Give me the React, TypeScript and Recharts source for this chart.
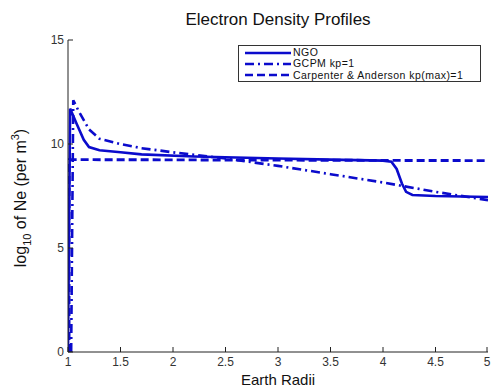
import React from "react";
import { LineChart, Line, XAxis, YAxis, Legend } from "recharts";

// x ticks (Earth radii) and y ticks (log10 Ne)
const xTicks = [1, 1.5, 2, 2.5, 3, 3.5, 4, 4.5, 5];
const yTicks = [0, 5, 10, 15];

// NGO model
const ngoR = [1.0, 1.02, 1.08, 1.15, 1.2, 1.3, 1.5, 1.7, 2.2, 3.0, 3.5, 4.0, 4.08, 4.13, 4.18, 4.22, 4.28, 4.5, 5.0];
const ngoNe = [0, 11.7, 11.0, 10.2, 9.85, 9.7, 9.6, 9.5, 9.4, 9.3, 9.25, 9.2, 9.15, 8.8, 8.1, 7.7, 7.55, 7.5, 7.45];

// GCPM kp=1
const gcpmR = [1.03, 1.05, 1.1, 1.2, 1.3, 1.5, 1.7, 2.0, 2.5, 3.0, 3.5, 4.0, 4.5, 5.0];
const gcpmNe = [0, 12.1, 11.6, 10.7, 10.25, 10.0, 9.8, 9.6, 9.3, 8.95, 8.55, 8.15, 7.7, 7.3];

// Carpenter & Anderson kp(max)=1
const caR = [1.01, 1.01, 5.0];
const caNe = [0, 9.25, 9.2];

const zip = (xs: number[], ys: number[]) => xs.map((r, i) => ({ r, ne: ys[i] }));

const BLUE = "#0b0bcc";
const AXIS = "#222";
const FONT = "Arial, 'Liberation Sans', sans-serif";

const series = [
  { name: "NGO", data: zip(ngoR, ngoNe), dash: undefined as string | undefined, width: 2.6 },
  { name: "GCPM kp=1", data: zip(gcpmR, gcpmNe), dash: "9 4 2 4", width: 2.6 },
  { name: "Carpenter & Anderson kp(max)=1", data: zip(caR, caNe), dash: "8 4", width: 2.9 },
];

const BottomTick = (props: any) => {
  const { x, y, payload } = props;
  return (
    <g>
      <line x1={x} x2={x} y1={y} y2={y - 5} stroke={AXIS} />
      <text x={x} y={y + 14} textAnchor="middle" fontSize={12} fill="#333" fontFamily={FONT}>
        {payload.value}
      </text>
    </g>
  );
};

const TopTick = (props: any) => {
  const { x, y } = props;
  return <line x1={x} x2={x} y1={y} y2={y + 5} stroke={AXIS} />;
};

const LeftTick = (props: any) => {
  const { x, y, payload } = props;
  return (
    <g>
      <line x1={x} x2={x + 5} y1={y} y2={y} stroke={AXIS} />
      <text x={x - 4} y={y + 4} textAnchor="end" fontSize={12} fill="#333" fontFamily={FONT}>
        {payload.value}
      </text>
    </g>
  );
};

const RightTick = (props: any) => {
  const { x, y } = props;
  return <line x1={x} x2={x - 5} y1={y} y2={y} stroke={AXIS} />;
};

const YLabel = (props: any) => {
  const { viewBox } = props;
  const cx = 26;
  const cy = viewBox.y + viewBox.height / 2 + 2;
  return (
    <text
      x={cx}
      y={cy}
      transform={`rotate(-90 ${cx} ${cy})`}
      textAnchor="middle"
      fontSize={16}
      fontFamily={FONT}
      fill="#111"
    >
      log
      <tspan fontSize={11} dy={5}>10</tspan>
      <tspan dy={-5}> of Ne (per m</tspan>
      <tspan fontSize={11} dy={-7}>3</tspan>
      <tspan dy={7}>)</tspan>
    </text>
  );
};

const renderLegend = () => (
  <div
    style={{
      border: "1px solid #333",
      background: "#fff",
      width: 243,
      height: 37,
      boxSizing: "border-box",
      padding: "1px 0 0 6px",
      fontFamily: FONT,
      fontSize: 10.5,
      letterSpacing: 0.45,
      color: "#111",
    }}
  >
    {series.map((s) => (
      <div key={s.name} style={{ display: "flex", alignItems: "center", height: 11.3, lineHeight: "11px", whiteSpace: "nowrap" }}>
        <svg width={46} height={6} style={{ marginRight: 2 }}>
          <line x1={0} x2={46} y1={3} y2={3} stroke={BLUE} strokeWidth={2.5} strokeDasharray={s.dash} />
        </svg>
        <span>{s.name}</span>
      </div>
    ))}
  </div>
);

export default function App() {
  return (
    <div style={{ position: "absolute", left: 0, top: 0, width: 491, height: 387, background: "#fff" }}>
      <div
        style={{
          position: "absolute",
          left: 68,
          width: 420,
          top: 10,
          textAlign: "center",
          fontFamily: FONT,
          fontSize: 17,
          lineHeight: "20px",
          color: "#111",
        }}
      >
        Electron Density Profiles
      </div>
      <LineChart width={491} height={387} margin={{ top: 40, right: 3, bottom: 0, left: 0 }}>
        <XAxis
          dataKey="r"
          type="number"
          domain={[1, 5]}
          ticks={xTicks}
          height={35}
          tickSize={0}
          tickMargin={0}
          tick={<BottomTick />}
          axisLine={{ stroke: AXIS }}
          tickLine={false}
          allowDataOverflow
          label={{ value: "Earth Radii", position: "insideBottom", offset: 2, fontSize: 15, fill: "#111", fontFamily: FONT }}
        />
        <XAxis
          xAxisId="top"
          orientation="top"
          type="number"
          domain={[1, 5]}
          ticks={xTicks}
          height={0}
          tickSize={0}
          tickMargin={0}
          tick={<TopTick />}
          axisLine={{ stroke: AXIS }}
          tickLine={false}
          allowDataOverflow
        />
        <YAxis
          type="number"
          domain={[0, 15]}
          ticks={yTicks}
          width={68}
          tickSize={0}
          tickMargin={0}
          tick={<LeftTick />}
          axisLine={{ stroke: AXIS }}
          tickLine={false}
          allowDataOverflow
          label={<YLabel />}
        />
        <YAxis
          yAxisId="right"
          orientation="right"
          type="number"
          domain={[0, 15]}
          ticks={yTicks}
          width={0}
          tickSize={0}
          tickMargin={0}
          tick={<RightTick />}
          axisLine={{ stroke: "#777" }}
          tickLine={false}
          allowDataOverflow
        />
        <Legend
          layout="vertical"
          align="center"
          verticalAlign="middle"
          content={renderLegend}
          wrapperStyle={{ left: 238, top: 45, width: 243 }}
        />
        {series.map((s) => (
          <Line
            key={s.name}
            name={s.name}
            data={s.data}
            dataKey="ne"
            type="linear"
            stroke={BLUE}
            strokeWidth={s.width}
            strokeDasharray={s.dash}
            dot={false}
            isAnimationActive={false}
          />
        ))}
      </LineChart>
    </div>
  );
}
